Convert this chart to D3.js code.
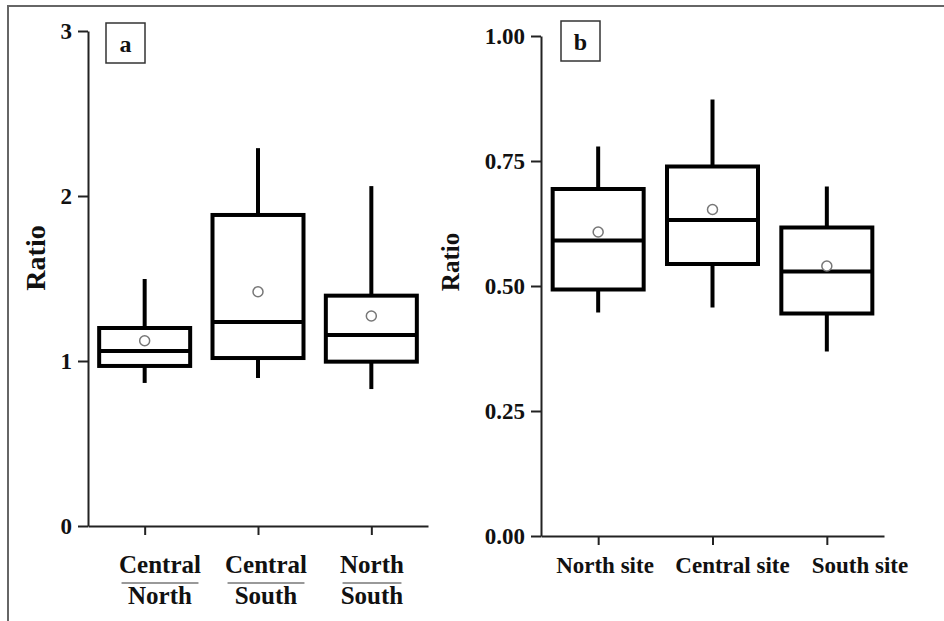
<!DOCTYPE html>
<html>
<head>
<meta charset="utf-8">
<script src="https://cdn.jsdelivr.net/npm/d3@7"></script>
<style>
  body { margin: 0; background: #fff; }
  svg { display: block; }
  text { font-family: "Liberation Serif", "Times New Roman", serif; font-weight: bold; fill: #111; }
</style>
</head>
<body>
<div id="chart"></div>
<script>
// panel a : ratios between sites
const ratioNumerators = ["Central", "Central", "North"];
const ratioDenominators = ["North", "South", "South"];
const ratioWhiskerLow = [0.867, 0.897, 0.83];
const ratioQ1 = [0.97, 1.018, 0.996];
const ratioMedian = [1.06, 1.236, 1.158];
const ratioQ3 = [1.2, 1.885, 1.396];
const ratioWhiskerHigh = [1.497, 2.29, 2.06];
const ratioMean = [1.123, 1.42, 1.273];
const ratioTicks = [0, 1, 2, 3];

// panel b : ratio per site
const sites = ["North site", "Central site", "South site"];
const siteWhiskerLow = [0.447, 0.457, 0.369];
const siteQ1 = [0.493, 0.544, 0.445];
const siteMedian = [0.591, 0.632, 0.529];
const siteQ3 = [0.694, 0.739, 0.617];
const siteWhiskerHigh = [0.779, 0.873, 0.699];
const siteMean = [0.608, 0.653, 0.54];
const siteTicks = [0, 0.25, 0.5, 0.75, 1];

const svgWidth = 944;
const svgHeight = 621;

const svg = d3
  .select("#chart")
  .append("svg")
  .attr("width", svgWidth)
  .attr("height", svgHeight);

// outer frame (top and left only)
svg
  .append("path")
  .attr("d", "M8," + svgHeight + "V6H" + svgWidth)
  .attr("fill", "none")
  .attr("stroke", "#666")
  .attr("stroke-width", 2);

const drawPanel = (p) => {
  const keys = p.categories.map((d, i) => "c" + i);
  const rows = keys.map((k, i) => ({
    key: k,
    lo: p.lo[i],
    q1: p.q1[i],
    med: p.med[i],
    q3: p.q3[i],
    hi: p.hi[i],
    mean: p.mean[i],
  }));

  const x = d3.scalePoint().domain(keys).range(p.xRange).padding(0.5);
  const y = d3.scaleLinear().domain(p.yDomain).range(p.yRange);
  const g = svg.append("g");

  // y axis
  const yAxis = g
    .append("g")
    .attr("transform", "translate(" + p.xRange[0] + ",0)")
    .call(
      d3
        .axisLeft(y)
        .tickValues(p.ticks)
        .tickFormat(p.format)
        .tickSize(10)
        .tickSizeOuter(0)
        .tickPadding(6)
    );

  // x axis
  const xAxis = g
    .append("g")
    .attr("transform", "translate(0," + p.yRange[0] + ")")
    .call(d3.axisBottom(x).tickSize(9).tickSizeOuter(0).tickFormat(""));

  [yAxis, xAxis].forEach((ax) => {
    ax.selectAll("path, line").attr("stroke", "#222").attr("stroke-width", 2);
  });
  yAxis.selectAll("text").attr("font-size", 23).attr("fill", "#111");

  const boxW = 91;

  const box = g
    .selectAll("g.box")
    .data(rows)
    .enter()
    .append("g")
    .attr("class", "box");

  // whiskers
  box
    .append("line")
    .attr("x1", (d) => x(d.key))
    .attr("x2", (d) => x(d.key))
    .attr("y1", (d) => y(d.q3))
    .attr("y2", (d) => y(d.hi))
    .attr("stroke", "#000")
    .attr("stroke-width", 4);
  box
    .append("line")
    .attr("x1", (d) => x(d.key))
    .attr("x2", (d) => x(d.key))
    .attr("y1", (d) => y(d.q1))
    .attr("y2", (d) => y(d.lo))
    .attr("stroke", "#000")
    .attr("stroke-width", 4);

  box
    .append("rect")
    .attr("x", (d) => x(d.key) - boxW / 2)
    .attr("y", (d) => y(d.q3))
    .attr("width", boxW)
    .attr("height", (d) => y(d.q1) - y(d.q3))
    .attr("fill", "#fff")
    .attr("stroke", "#000")
    .attr("stroke-width", 4);

  box
    .append("line")
    .attr("x1", (d) => x(d.key) - boxW / 2)
    .attr("x2", (d) => x(d.key) + boxW / 2)
    .attr("y1", (d) => y(d.med))
    .attr("y2", (d) => y(d.med))
    .attr("stroke", "#000")
    .attr("stroke-width", 4);

  box
    .append("circle")
    .attr("cx", (d) => x(d.key))
    .attr("cy", (d) => y(d.mean))
    .attr("r", 5)
    .attr("fill", "#fff")
    .attr("stroke", "#777")
    .attr("stroke-width", 1.5);

  // axis title
  g.append("text")
    .attr("transform", "translate(" + p.titleX + "," + p.titleY + ") rotate(-90)")
    .attr("text-anchor", "middle")
    .attr("dominant-baseline", "central")
    .attr("font-size", p.titleSize)
    .text("Ratio");

  // panel letter box
  g.append("rect")
    .attr("x", p.letterX)
    .attr("y", p.letterY)
    .attr("width", 39)
    .attr("height", 40)
    .attr("fill", "#fff")
    .attr("stroke", "#333")
    .attr("stroke-width", 1.5);
  g.append("text")
    .attr("x", p.letterX + 19.5)
    .attr("y", p.letterY + 29)
    .attr("text-anchor", "middle")
    .attr("font-size", 24)
    .text(p.letter);

  return { g, x, rows };
};

// panel a
const panelA = drawPanel({
  categories: ratioNumerators,
  lo: ratioWhiskerLow,
  q1: ratioQ1,
  med: ratioMedian,
  q3: ratioQ3,
  hi: ratioWhiskerHigh,
  mean: ratioMean,
  ticks: ratioTicks,
  format: d3.format("d"),
  xRange: [88, 428],
  yDomain: [0, 3],
  yRange: [526, 31],
  titleX: 35,
  titleY: 258,
  titleSize: 28,
  letter: "a",
  letterX: 106,
  letterY: 23,
});

// fraction labels under panel a
const labelA = d3
  .scalePoint()
  .domain(ratioNumerators.map((d, i) => i))
  .range([160, 372]);

ratioNumerators.forEach((num, i) => {
  const cx = labelA(i);
  const t = panelA.g
    .append("text")
    .attr("x", cx)
    .attr("y", 573)
    .attr("text-anchor", "middle")
    .attr("font-size", 25)
    .text(num);
  const w = t.node().getComputedTextLength() - 5;
  panelA.g
    .append("line")
    .attr("x1", cx - w / 2)
    .attr("x2", cx + w / 2)
    .attr("y1", 583)
    .attr("y2", 583)
    .attr("stroke", "#999")
    .attr("stroke-width", 2);
  panelA.g
    .append("text")
    .attr("x", cx)
    .attr("y", 604)
    .attr("text-anchor", "middle")
    .attr("font-size", 25)
    .text(ratioDenominators[i]);
});

// panel b
const panelB = drawPanel({
  categories: sites,
  lo: siteWhiskerLow,
  q1: siteQ1,
  med: siteMedian,
  q3: siteQ3,
  hi: siteWhiskerHigh,
  mean: siteMean,
  ticks: siteTicks,
  format: d3.format(".2f"),
  xRange: [541, 884],
  yDomain: [0, 1],
  yRange: [536, 36],
  titleX: 450,
  titleY: 262,
  titleSize: 25,
  letter: "b",
  letterX: 561,
  letterY: 21,
});

const labelB = d3
  .scalePoint()
  .domain(sites)
  .range([605, 860]);

panelB.g
  .selectAll("text.site")
  .data(sites)
  .enter()
  .append("text")
  .attr("class", "site")
  .attr("x", (d) => labelB(d))
  .attr("y", 573)
  .attr("text-anchor", "middle")
  .attr("font-size", 23)
  .text((d) => d);
</script>
</body>
</html>
